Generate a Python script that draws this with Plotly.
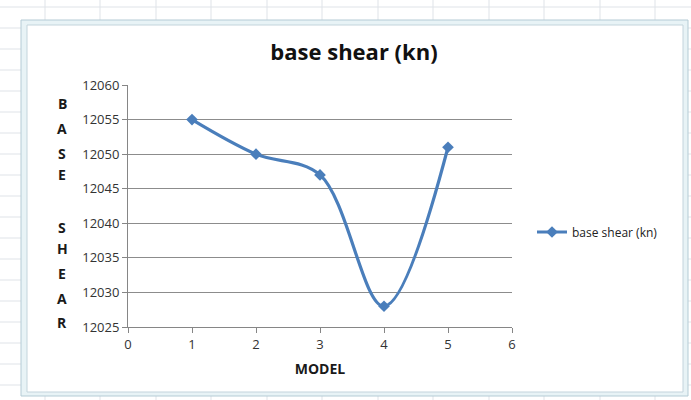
import plotly.graph_objects as go

# ---- data ----
models = [1, 2, 3, 4, 5]
base_shear = [12055, 12050, 12047, 12028, 12051]
series_name = "base shear (kn)"
y_title_letters = ["B", "A", "S", "E", "", "S", "H", "E", "A", "R"]

W, H = 691, 400
L, R, T, B = 128, 179, 85, 73
PW, PH = W - L - R, H - T - B

def px(x):
    return (x - L) / PW

def py(y):
    return 1 - (y - T) / PH

BLUE = "#4a7ebb"
FONT = "Open Sans"

fig = go.Figure()
fig.add_trace(go.Scatter(
    x=models, y=base_shear, name=series_name,
    mode="lines+markers",
    line=dict(color=BLUE, width=3.2, shape="spline", smoothing=1.0),
    marker=dict(symbol="diamond", size=9, color=BLUE),
))

shapes = []
# spreadsheet grid background
for gx in [45, 100, 156, 211, 267, 322, 378, 433, 489, 544, 600, 655]:
    shapes.append(dict(type="line", xref="paper", yref="paper",
                       x0=px(gx), x1=px(gx), y0=py(0), y1=py(400),
                       line=dict(color="#dfe3e8", width=1), layer="below"))
for gy in range(7, 400, 21):
    shapes.append(dict(type="line", xref="paper", yref="paper",
                       x0=px(0), x1=px(691), y0=py(gy), y1=py(gy),
                       line=dict(color="#dfe3e8", width=1), layer="below"))
# chart frame
shapes.append(dict(type="rect", xref="paper", yref="paper",
                   x0=px(21), x1=px(688), y0=py(20), y1=py(396),
                   fillcolor="#e8f3f6", line=dict(color="#b4cbd5", width=1), layer="below"))
shapes.append(dict(type="rect", xref="paper", yref="paper",
                   x0=px(27), x1=px(683), y0=py(25), y1=py(392),
                   fillcolor="#ffffff", line=dict(color="#c3d4dc", width=1), layer="below"))

annotations = []
letter_y = [103, 128, 153, 174, 200, 227, 248, 273, 298, 322]
for ch, ly in zip(y_title_letters, letter_y):
    if ch:
        annotations.append(dict(text=ch, xref="paper", yref="paper",
                                x=px(62), y=py(ly), showarrow=False,
                                xanchor="center", yanchor="middle",
                                font=dict(family=FONT, size=14, color="#1a1a1a", weight="bold")))

fig.update_layout(
    width=W, height=H,
    margin=dict(l=L, r=R, t=T, b=B),
    paper_bgcolor="#ffffff",
    plot_bgcolor="rgba(0,0,0,0)",
    title=dict(text="base shear (kn)", xref="container", yref="container",
               x=354 / W, y=1 - 52 / H,
               xanchor="center", yanchor="middle",
               font=dict(family=FONT, size=22, color="#111111", weight="bold")),
    xaxis=dict(range=[0, 6], dtick=1, tick0=0, showgrid=False,
               showline=True, linecolor="#868686", linewidth=1,
               ticks="outside", ticklen=5, tickcolor="#868686",
               tickfont=dict(family=FONT, size=13, color="#333333"),
               zeroline=False,
               title=dict(text="MODEL", standoff=12,
                          font=dict(family=FONT, size=14, color="#1a1a1a", weight="bold"))),
    yaxis=dict(range=[12025, 12060], dtick=5, tick0=12025,
               showgrid=True, gridcolor="#8c8c8c", gridwidth=1,
               showline=True, linecolor="#868686", linewidth=1,
               ticks="outside", ticklen=5, tickcolor="#868686",
               tickfont=dict(family=FONT, size=13, color="#333333"),
               zeroline=False, tickformat="d"),
    showlegend=True,
    legend=dict(x=px(532), y=py(232), xanchor="left", yanchor="middle",
                bgcolor="rgba(0,0,0,0)",
                font=dict(family=FONT, size=12, color="#222222"),
                itemwidth=30),
    shapes=shapes,
    annotations=annotations,
)

fig.write_html("out.html", config={"displayModeBar": False},
               post_script="document.body.style.margin='0';document.body.style.padding='0';")
